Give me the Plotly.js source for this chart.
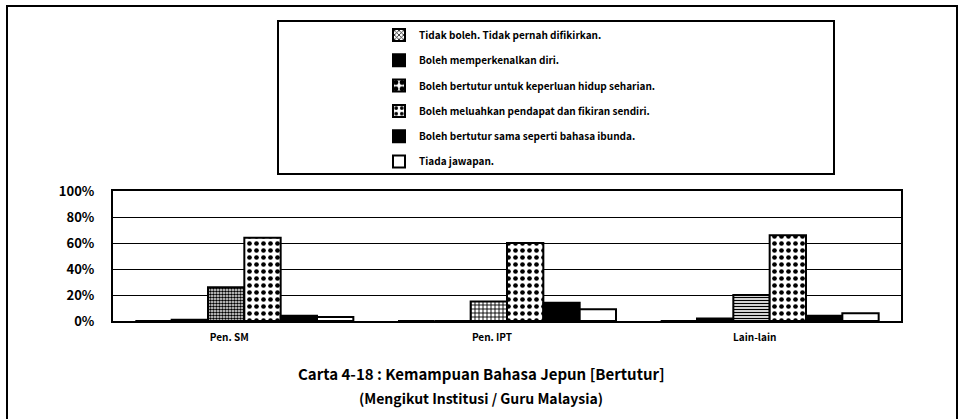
<!DOCTYPE html>
<html>
<head>
<meta charset="utf-8">
<script src="https://cdn.plot.ly/plotly-3.0.1.min.js"></script>
<style>
  html, body { margin: 0; padding: 0; background: #fff; }
  #chart { width: 962px; height: 419px; }
</style>
</head>
<body>
<div id="chart"></div>
<script>
// categories and series (percent)
var categories = ['Pen. SM', 'Pen. IPT', 'Lain-lain'];
var seriesNames = [
  'Tidak boleh. Tidak pernah difikirkan.',
  'Boleh memperkenalkan diri.',
  'Boleh bertutur untuk keperluan hidup seharian.',
  'Boleh meluahkan pendapat dan fikiran sendiri.',
  'Boleh bertutur sama seperti bahasa ibunda.',
  'Tiada jawapan.'
];
var tidakBoleh = [0, 0, 0];
var perkenalDiri = [1, 0, 2];
var keperluanHidup = [26, 15, 20];
var luahPendapat = [64, 60, 66];
var samaIbunda = [4, 14, 4];
var tiadaJawapan = [3, 9, 6];
var yTicks = [0, 20, 40, 60, 80, 100];
var yTickText = ['0%', '20%', '40%', '60%', '80%', '100%'];

var font = '"Noto Sans CJK JP", "DejaVu Sans", sans-serif';

// plot area in pixels
var L = 113, R = 901, T = 191, B = 321;
function px(x) { return (x - L) / (R - L); }
function py(y) { return (B - y) / (B - T); }

var values = [tidakBoleh, perkenalDiri, keperluanHidup, luahPendapat, samaIbunda, tiadaJawapan];
var patterns = [
  { shape: 'x', size: 4, solidity: 0.4, fgcolor: '#000', bgcolor: '#fff' },
  { shape: '', fgcolor: '#000', bgcolor: '#000' },
  { shape: ['.', '+', '-'], size: [3, 4, 3], solidity: [0.6, 0.4, 0.45], fgcolor: '#000', bgcolor: '#fff' },
  { shape: '.', size: 7, solidity: 0.35, fgcolor: '#000', bgcolor: '#fff' },
  { shape: '', fgcolor: '#000', bgcolor: '#000' },
  { shape: '', fgcolor: '#fff', bgcolor: '#fff' }
];
var fills = ['#fff', '#000', '#fff', '#fff', '#000', '#fff'];

var traces = [];
for (var i = 0; i < values.length; i++) {
  traces.push({
    type: 'bar',
    name: seriesNames[i],
    x: categories,
    y: values[i],
    legendgroup: 'g' + i,
    marker: { color: fills[i], line: { color: '#000', width: 2 }, pattern: patterns[i] },
    hoverinfo: 'skip'
  });
}

var layout = {
  width: 962,
  height: 419,
  margin: { l: L, r: 962 - R, t: T, b: 419 - B },
  paper_bgcolor: '#fff',
  plot_bgcolor: '#fff',
  font: { family: font, color: '#000', size: 10 },
  barmode: 'group',
  bargap: 0.17,
  bargroupgap: 0,
  showlegend: true,
  legend: {
    x: px(379), y: py(20.5), xanchor: 'left', yanchor: 'top',
    bgcolor: 'rgba(0,0,0,0)', borderwidth: 0,
    font: { family: font, size: 10, weight: 'bold' },
    tracegroupgap: 6.3, itemwidth: 30, traceorder: 'grouped'
  },
  xaxis: {
    type: 'category',
    showgrid: false,
    showline: true, linecolor: '#000', linewidth: 2, mirror: true,
    ticks: '', ticklabelshift: -15, ticklabelstandoff: 6,
    tickfont: { family: font, size: 10, weight: 'bold' },
    fixedrange: true
  },
  yaxis: {
    range: [0, 100],
    tickvals: yTicks, ticktext: yTickText,
    showgrid: true, gridcolor: '#000', gridwidth: 1,
    showline: true, linecolor: '#000', linewidth: 2, mirror: true,
    zeroline: false,
    ticks: '', ticklabelstandoff: 14,
    tickfont: { family: font, size: 13, weight: 'bold' },
    fixedrange: true
  },
  shapes: [
    // outer frame
    { type: 'rect', xref: 'paper', yref: 'paper', x0: px(7), x1: px(957), y0: py(425), y1: py(6),
      line: { color: '#000', width: 2 } },
    // legend box
    { type: 'rect', xref: 'paper', yref: 'paper', x0: px(278), x1: px(834), y0: py(174), y1: py(21),
      line: { color: '#000', width: 2 } }
  ],
  annotations: [
    { xref: 'paper', yref: 'paper', x: px(481), y: py(373), xanchor: 'center', yanchor: 'middle',
      text: 'Carta 4-18 : Kemampuan Bahasa Jepun [Bertutur]', showarrow: false,
      font: { family: font, size: 15, weight: 'bold' } },
    { xref: 'paper', yref: 'paper', x: px(481), y: py(398), xanchor: 'center', yanchor: 'middle',
      text: '(Mengikut Institusi / Guru Malaysia)', showarrow: false,
      font: { family: font, size: 14, weight: 'bold' } }
  ]
};

Plotly.newPlot('chart', traces, layout, { displayModeBar: false, staticPlot: true });
</script>
</body>
</html>
